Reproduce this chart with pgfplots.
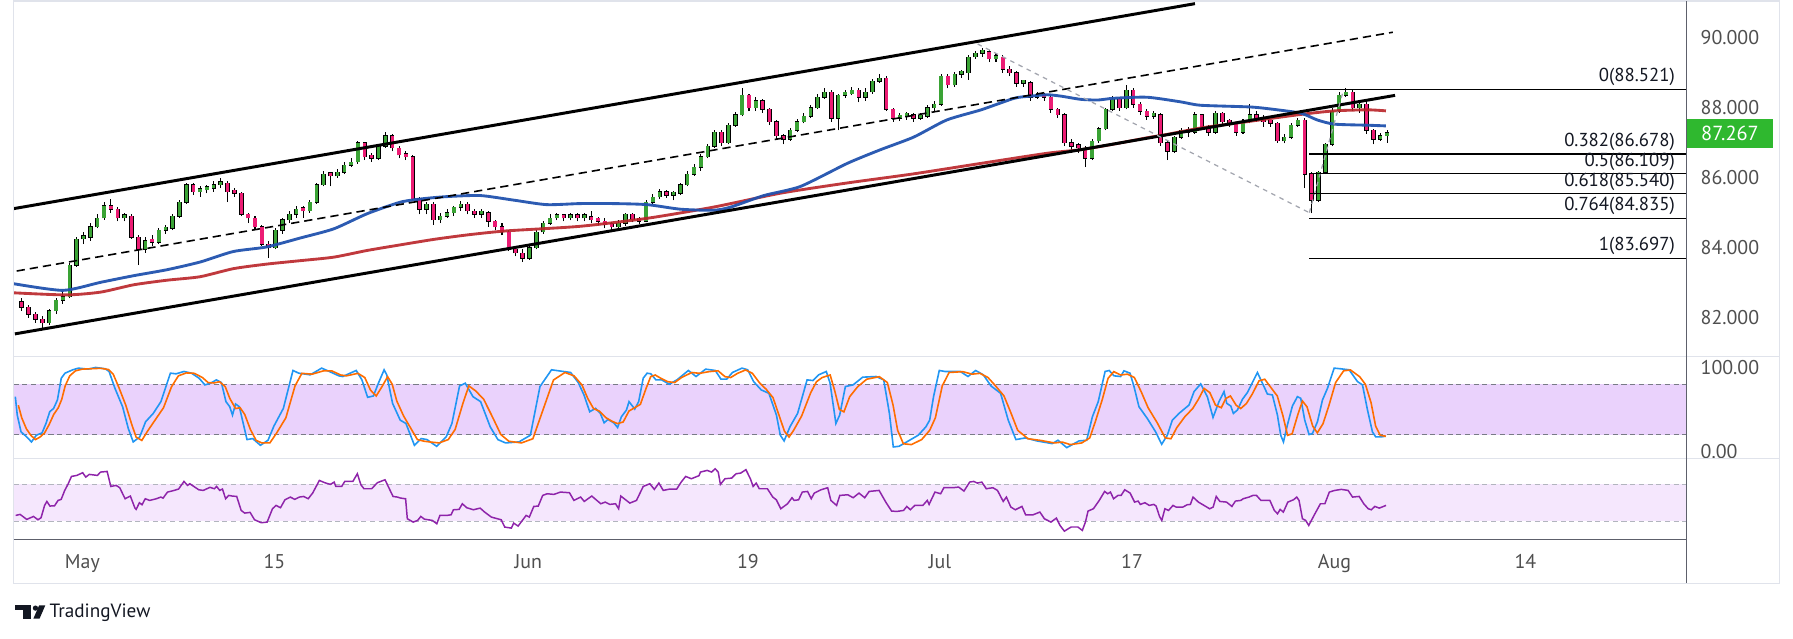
\documentclass[border=0pt]{standalone}
\usepackage{pgfplots}
\usepackage{pgfplotstable}
\pgfplotsset{compat=1.18}
\usepackage{fontspec}
\setmainfont{PT Sans}
\definecolor{upc}{HTML}{3AA335}
\definecolor{dnc}{HTML}{EC1C74}
\definecolor{mablue}{HTML}{2152AE}
\definecolor{mared}{HTML}{B92328}
\definecolor{stk}{HTML}{2196F3}
\definecolor{std}{HTML}{FF6D00}
\definecolor{stband}{HTML}{EAD2FC}
\definecolor{rsiband}{HTML}{F5E7FD}
\definecolor{rsiline}{HTML}{8E24AA}
\definecolor{labelgray}{HTML}{4F4F4F}
\definecolor{framegray}{HTML}{E0E3EB}
\definecolor{axisdark}{HTML}{5D606B}
\definecolor{tagreen}{HTML}{2FB82F}
\definecolor{fibtext}{HTML}{131722}
\definecolor{banddash}{HTML}{787B86}
\definecolor{rsidash}{HTML}{B2B5BE}
\definecolor{gdash}{HTML}{A3A6AF}

\pgfplotstableread{
x o h l c
19 82.45 82.55 82.2 82.3
25 82.3 82.35 82.0 82.1
31 82.1 82.15 81.85 81.95
37 81.95 82.05 81.68 81.85
43 81.85 82.25 81.8 82.2
49 82.2 82.55 82.1 82.5
55 82.5 82.75 82.4 82.6
61 82.6 83.55 82.55 83.5
67 83.5 84.3 83.45 84.25
73 84.25 84.45 84.1 84.3
79 84.3 84.7 84.2 84.6
85 84.6 84.95 84.55 84.85
91 84.85 85.3 84.8 85.2
97 85.2 85.4 85.0 85.1
103 85.1 85.15 84.75 84.85
109 84.85 85.0 84.75 84.9
115 84.9 84.95 84.25 84.3
121 84.3 84.35 83.5 83.95
127 83.95 84.3 83.85 84.2
133 84.2 84.35 84.05 84.15
139 84.15 84.55 84.1 84.5
145 84.5 84.65 84.4 84.55
151 84.55 84.95 84.5 84.9
157 84.9 85.35 84.85 85.3
163 85.3 85.85 85.25 85.8
169 85.8 85.85 85.5 85.6
175 85.6 85.75 85.45 85.65
181 85.65 85.8 85.55 85.7
187 85.7 85.9 85.6 85.8
193 85.8 86.0 85.7 85.85
199 85.85 85.9 85.3 85.6
205 85.6 85.7 85.45 85.55
211 85.55 85.6 84.9 84.95
217 84.95 85.0 84.7 84.85
223 84.85 84.9 84.5 84.6
229 84.6 84.65 84.05 84.1
235 84.1 84.2 83.7 84.0
241 84.0 84.55 83.95 84.5
247 84.5 84.85 84.4 84.8
253 84.8 85.05 84.7 84.95
259 84.95 85.2 84.85 85.1
265 85.1 85.2 84.85 85.05
271 85.05 85.35 85.0 85.3
277 85.3 85.85 85.25 85.8
283 85.8 86.2 85.75 86.1
289 86.1 86.15 85.75 86.05
295 86.05 86.25 86.0 86.15
301 86.15 86.45 86.1 86.35
307 86.35 86.55 86.3 86.45
313 86.45 87.05 86.4 87.0
319 87.0 87.0 86.5 86.6
325 86.6 86.7 86.45 86.55
331 86.55 86.95 86.5 86.9
337 86.9 87.3 86.85 87.2
343 87.2 87.25 86.75 86.85
349 86.85 86.9 86.55 86.65
355 86.65 86.75 86.5 86.6
361 86.6 86.65 85.35 85.4
367 85.4 85.45 84.95 85.1
373 85.1 85.3 84.95 85.25
379 85.25 85.3 84.65 84.8
385 84.8 85.0 84.7 84.9
391 84.9 85.1 84.85 85.0
397 85.0 85.2 84.9 85.15
403 85.15 85.32 85.05 85.25
409 85.25 85.3 84.95 85.05
415 85.05 85.1 84.85 84.95
421 84.95 85.1 84.85 85.0
427 85.0 85.05 84.6 84.75
433 84.75 84.8 84.5 84.6
439 84.6 84.7 84.35 84.45
445 84.45 84.5 83.9 83.95
451 83.95 84.0 83.75 83.85
457 83.85 83.95 83.6 83.7
463 83.7 84.05 83.65 84.0
469 84.0 84.5 83.95 84.45
475 84.45 84.75 84.4 84.7
481 84.7 84.95 84.65 84.85
487 84.85 84.98 84.78 84.9
493 84.9 84.97 84.75 84.85
499 84.85 85.0 84.78 84.9
505 84.9 84.98 84.75 84.85
511 84.85 85.0 84.75 84.88
517 84.88 85.05 84.7 84.8
523 84.8 84.88 84.65 84.75
529 84.75 84.85 84.55 84.65
535 84.65 84.72 84.5 84.6
541 84.6 84.78 84.5 84.7
547 84.7 85.0 84.62 84.95
553 84.95 85.0 84.72 84.8
559 84.8 84.88 84.68 84.75
565 84.75 85.35 84.72 85.3
571 85.3 85.52 85.25 85.45
577 85.45 85.68 85.4 85.6
583 85.6 85.65 85.42 85.5
589 85.5 85.62 85.35 85.55
595 85.55 85.85 85.5 85.8
601 85.8 86.18 85.75 86.1
607 86.1 86.38 86.05 86.3
613 86.3 86.68 86.2 86.6
619 86.6 86.95 86.55 86.9
625 86.9 87.35 86.85 87.3
631 87.3 87.35 86.9 87.0
637 87.0 87.55 86.95 87.5
643 87.5 87.88 87.45 87.8
649 87.8 88.56 87.75 88.35
655 88.35 88.4 87.9 88.0
661 88.0 88.3 87.9 88.2
667 88.2 88.25 87.85 87.95
673 87.95 88.0 87.5 87.6
679 87.6 87.65 87.1 87.2
685 87.2 87.25 86.95 87.1
691 87.1 87.42 87.05 87.35
697 87.35 87.68 87.3 87.6
703 87.6 87.85 87.55 87.75
709 87.75 88.08 87.7 88.0
715 88.0 88.38 87.95 88.3
721 88.3 88.55 88.25 88.45
727 88.45 88.5 87.6 87.7
733 87.7 88.4 87.35 88.35
739 88.35 88.5 88.28 88.4
745 88.4 88.6 88.35 88.5
751 88.5 88.55 88.15 88.3
757 88.3 88.55 88.2 88.45
763 88.45 88.82 88.4 88.75
769 88.75 88.95 88.7 88.85
775 88.85 88.9 87.9 87.95
781 87.95 88.0 87.6 87.7
787 87.7 87.85 87.62 87.75
793 87.75 87.88 87.65 87.8
799 87.8 87.85 87.6 87.7
805 87.7 87.85 87.65 87.75
811 87.75 88.08 87.7 88.0
817 88.0 88.18 87.9 88.1
823 88.1 88.95 88.05 88.9
829 88.9 88.95 88.55 88.65
835 88.65 89.02 88.6 88.95
841 88.95 89.08 88.85 89.0
847 89.0 89.5 88.8 89.45
853 89.45 89.62 89.4 89.55
859 89.55 89.72 89.45 89.6
865 89.6 89.65 89.3 89.4
871 89.4 89.55 89.32 89.45
877 89.45 89.5 89.0 89.1
883 89.1 89.2 88.9 89.0
889 89.0 89.05 88.6 88.7
895 88.7 88.8 88.6 88.72
901 88.72 88.75 88.2 88.3
907 88.3 88.45 88.25 88.35
913 88.35 88.42 88.2 88.3
919 88.3 88.35 87.85 87.95
925 87.95 88.0 87.7 87.8
931 87.8 87.85 86.9 87.0
937 87.0 87.1 86.8 86.9
943 86.9 86.98 86.7 86.85
949 86.85 86.9 86.3 86.55
955 86.55 87.1 86.5 87.05
961 87.05 87.45 87.0 87.4
967 87.4 88.0 87.35 87.95
973 87.95 88.33 87.9 88.25
979 88.25 88.3 87.92 88.0
985 88.0 88.65 87.95 88.5
991 88.5 88.55 88.0 88.1
997 88.1 88.15 87.8 87.9
1003 87.9 87.95 87.65 87.75
1009 87.75 87.9 87.68 87.8
1015 87.8 87.85 86.9 87.0
1021 87.0 87.05 86.5 86.75
1027 86.75 87.2 86.7 87.15
1033 87.15 87.42 87.1 87.35
1039 87.35 87.45 87.15 87.3
1045 87.3 87.88 87.25 87.8
1051 87.8 87.82 87.35 87.45
1057 87.45 87.5 87.2 87.3
1063 87.3 87.92 87.25 87.85
1069 87.85 87.88 87.5 87.6
1075 87.6 87.68 87.45 87.55
1081 87.55 87.6 87.2 87.3
1087 87.3 87.68 87.25 87.6
1093 87.6 88.1 87.55 87.8
1099 87.8 87.9 87.6 87.7
1105 87.7 87.78 87.45 87.6
1111 87.6 87.65 87.45 87.55
1117 87.55 87.6 87.0 87.05
1123 87.05 87.25 86.98 87.15
1129 87.15 87.55 87.1 87.5
1135 87.5 87.72 87.45 87.65
1141 87.65 87.7 85.7 86.1
1147 86.1 86.15 84.98 85.35
1153 85.35 86.2 85.3 86.15
1159 86.15 87.0 86.1 86.95
1165 86.95 88.0 86.9 87.9
1171 87.9 88.45 87.85 88.35
1177 88.35 88.56 88.3 88.45
1183 88.45 88.5 87.9 88.0
1189 88.0 88.2 87.85 88.1
1195 88.1 88.15 87.25 87.35
1201 87.35 87.4 86.95 87.1
1207 87.1 87.28 87.05 87.2
1213 87.2 87.35 87.0 87.27
}\candles

\pgfplotstableread{
x p
12 82.97
55 82.78
88 83.01
117 83.20
146 83.37
175 83.59
204 83.89
233 84.02
263 84.28
292 84.54
321 84.97
350 85.30
370 85.40
391 85.46
420 85.49
449 85.36
478 85.23
507 85.26
537 85.26
566 85.23
595 85.10
624 85.07
639 85.16
668 85.49
700 85.75
741 86.41
770 86.80
799 87.16
828 87.65
858 87.94
887 88.27
901 88.33
916 88.37
928 88.33
945 88.24
960 88.22
974 88.27
1003 88.30
1032 88.17
1050 88.07
1094 88.02
1117 87.94
1138 87.84
1152 87.65
1167 87.53
1196 87.50
1212 87.48
}\mablue

\pgfplotstableread{
x p
12 82.71
58 82.65
88 82.73
117 82.94
146 83.07
175 83.17
204 83.40
233 83.53
263 83.63
292 83.73
321 83.92
350 84.08
380 84.24
410 84.37
443 84.48
507 84.61
566 84.84
624 85.16
683 85.56
741 85.85
799 86.11
858 86.41
916 86.70
945 86.80
974 86.96
1003 87.14
1021 87.24
1050 87.42
1079 87.55
1138 87.81
1167 87.91
1196 87.94
1212 87.91
}\mared

\pgfplotstableread{
x v
13.4 65.2
15.1 43.2
18.4 23.2
23.4 17.2
27.5 11.2
31.8 19.2
36.8 22
40.2 33.2
43.5 47.2
46.9 51.2
50.2 61.2
53.6 87.2
56.9 93.2
63.6 97.2
68.7 99.2
77 98
83.7 100
92.1 98.4
95.4 95.2
100.5 75.2
107.2 53.2
112.2 27.2
116.5 11.2
122.2 17.2
127.3 35.2
134 45.2
140.7 59.2
149 93.2
154 92.4
160.8 95.2
167.5 93.2
174.1 87.2
179.2 79.2
184.2 81.2
189.2 85.2
193.6 82
197.6 59.2
200.9 53.2
203.3 43.2
206 56.4
209.3 53.2
216 14
221 15.2
227.7 7.2
234.4 13.2
239.5 30
247.8 51.2
256.2 96.4
261.2 93.2
271.3 91.2
281.3 99.2
288 95.2
296.4 90
299.7 89.2
311.5 96.4
316.5 85.2
321.5 64.4
326.5 66
331.5 83.2
335.9 97.2
338.2 91.2
343.3 57.2
350 37.2
355 33.2
362.4 7.2
368.4 15.2
373.4 14
381.8 6
390.2 17.2
395.2 33.2
401.9 78
406.9 81.2
413.6 65.2
420.3 59.2
428.7 29.2
435.4 14
442.1 10
453.8 11.2
463.8 19.2
472.2 77.2
482.3 97.2
499 94
505.7 82
510.7 67.2
515.7 47.2
520.8 51.2
525 45.2
528.3 34
531.7 38
536.7 34
540.1 28.4
543.4 41.2
547.8 49.2
550.1 59.2
555.1 50.4
558.5 59.2
562.5 87.2
565.9 93.2
569.2 92.4
573.6 85.2
578.6 85.2
585.3 80
592 85.2
602 96.4
608.7 89.2
617.1 98
625.5 96.4
630.5 86
635.5 86
640.5 94
648.9 99.2
653.9 97.2
659 83.2
665.7 73.2
672.4 69.2
679 43.2
682.4 19.2
685.7 12.4
690.8 29.2
697.5 45.2
705.8 85.2
710.9 84.4
715.9 91.2
722.6 95.2
725.9 81.2
731 33.2
734.3 43.2
739.3 77.2
746 79.2
754.4 88.4
766.1 89.2
772.8 85.2
777.8 45.2
781.2 5.2
786.2 6
792.9 11.2
803 19.2
809.7 29.2
813 37.2
816.4 65.2
821.4 96.4
826.4 95.2
839.8 95.2
846.5 89.2
853.2 96.4
859.9 91.2
866.6 78
875 69.2
881.7 37.2
888.4 14
896.7 16
906.8 12.4
920.2 9.2
925.2 13.2
932.9 4.4
943.6 12.4
950.3 13.2
955.3 41.2
960.4 59.2
966.4 95.2
970 96.4
974.2 90
980 89.2
982.9 96
988.2 93.2
991.7 77.2
996 53.2
1003.3 39.2
1010.6 23.2
1015.9 8.4
1020.8 19.2
1025.2 37.2
1031 45.2
1039.8 55.2
1044.2 71.2
1050 80.4
1055.8 65.2
1060.8 40.4
1066 59.2
1070.4 71.2
1072.8 57.2
1076.3 54
1078.6 45.2
1082.1 49.2
1086.5 62
1090.8 70
1095.2 82
1099.6 94
1104 81.2
1108.3 68.4
1112.7 67.2
1117.1 43.2
1120 19.2
1122.4 11.2
1125.8 31.2
1130.2 54
1134.6 65.2
1137.5 63.2
1141 37.2
1144.8 20
1147.7 21.2
1152.1 35.2
1156.5 61.2
1160.9 75.2
1166.7 99.2
1172.5 98.4
1179.8 97.2
1187.1 83.2
1191.5 79.2
1195.9 49.2
1200.2 23.2
1203.1 17.2
1207.5 17.2
1211.9 18
}\stochk

\pgfplotstableread{
x v
16 55
19 40
23 27
27 19
31 14
35 17
39 22
43 32
47 44
51 52
54 62
57 78
61 90
66 96
72 98
80 98.5
88 99
95 97.5
99 92
104 76
110 55
115 33
119 17
124 13
129 24
136 38
143 52
150 77
156 90
163 93.5
170 93
177 88
182 82
187 81.5
192 83
197 77
201 63
206 51
210 52
214 44
219 26
224 13
229 10
236 10
242 22
250 40
258 78
264 93
273 92
283 96
290 96
298 91
303 90
313 93
319 88
324 73
329 66
334 77
339 89
343 80
347 60
353 42
359 28
365 14
371 12
377 11
384 10
392 14
398 26
405 58
410 78
416 72
423 62
431 40
438 20
445 12
456 10
466 15
475 50
484 85
494 94
502 90
509 79
514 63
519 51
524 48
530 40
535 36
540 33
545 35
550 48
555 52
560 56
565 75
569 89
573 91
578 87
584 83
590 82
596 88
605 94
612 93
620 95
628 96
634 89
639 88
645 93
652 97
658 93
664 82
670 74
676 64
681 44
686 24
690 17
694 25
701 42
709 70
714 83
719 88
726 91
730 72
734 50
738 47
743 65
750 77
758 86
769 89
776 82
781 55
785 25
790 9
797 8
806 14
813 25
818 40
824 78
830 94
842 95
850 92
857 93
864 88
870 79
878 66
884 46
890 25
899 15
910 13
922 10
929 11
936 8
946 10
953 16
958 36
964 62
969 87
974 95
980 91
986 92
992 88
998 71
1004 52
1012 34
1019 16
1024 15
1029 28
1036 41
1043 51
1048 62
1053 75
1058 70
1063 55
1068 52
1072 63
1076 66
1081 55
1085 51
1090 57
1095 68
1101 84
1106 86
1112 75
1117 66
1122 42
1126 19
1130 21
1135 44
1139 60
1143 53
1148 30
1152 22
1157 33
1162 54
1168 82
1175 96
1181 97
1189 89
1194 80
1199 58
1203 30
1207 19
1212 18
}\stochd

\pgfplotstableread{
x v
13.7 36.5
17.6 37.6
23.4 32.2
29.3 35.4
33.2 31.8
35.9 34
39 47.3
41 51.6
43.7 46.6
47.7 46.9
50.8 52.7
53.5 53.8
56.6 63.5
59.4 70
62.5 78.6
67.2 79.7
72.3 82.6
75 77.9
78.1 80.8
85.2 79.7
87.9 83.3
93.7 84
96.9 67.8
101.6 68.9
104.7 66.4
109.4 54.5
114 57.4
118 44.4
119.1 43
121.9 50.2
124.2 48
127 54.5
130.9 52.7
136.7 54.5
140.6 56.3
142.6 55.2
146.5 61.7
152.3 63.5
156.2 65
160.9 73.2
164 68.9
166 70.7
173.8 64.2
177.7 63.5
183.6 66.8
187.5 65.3
189.4 67.8
192.2 63.5
194.5 65
197.3 54.5
200 58.1
203.1 57.4
207 57
210.9 41.9
214 39
218.7 39.8
222.6 31.8
228.5 28.6
233.6 29.3
238.3 43.7
241.4 47.3
245.3 44.8
249.2 53.4
253.9 56.3
257.8 53.8
261.7 56.3
265.6 57
269.5 54.5
273.4 60.6
279.3 74.3
284 71.8
289 70
292.2 72.5
293.7 67.8
298.8 67.8
301.5 73.2
308.6 73.2
312.5 81.5
315.6 69.6
318.3 65.3
325 65.3
330 71.8
336.7 75
343.7 57
347.6 56.3
350.4 55.2
354.7 54.5
356.2 32.9
361.3 29.3
365.2 31.1
368 35.4
371.1 32.5
378.1 31.1
382 27.5
384.7 36.5
390.6 36.5
394.5 37.2
396.5 42.6
401.5 43
404.3 49.1
408.2 44.8
414 42.6
419.9 44.4
423.8 40.1
429.7 34.7
438.3 31.8
441.4 23.9
447.2 22.8
449.2 28.2
453.1 25
460.1 36.5
462.9 34.7
466.8 46.2
470.7 46.6
474.6 58.1
478.5 59.9
484.3 59.2
490.2 61.7
498 61
501.9 52.7
507.8 56.3
510.9 51.6
517.5 57.4
525.4 49.1
529.3 50.9
533.2 48.4
538.3 49.1
541 43.7
542.9 57.4
550.8 49.8
556.6 52.7
562.5 67.8
568.3 70.7
572.2 64.6
576.2 71.4
580 63.5
585.9 65
591.8 65
595.7 72.5
599.6 78.6
604.6 76.1
611.3 79.4
612.5 83.3
618.4 85.1
622.3 83.3
625.4 86.9
628.1 83.3
630 70
634 76.1
639.8 76.8
643.7 81.5
647.7 82.2
652.3 85.9
656.2 76.1
658.6 67.8
661.3 71.4
664 65.3
671.1 65.3
675.8 56.3
678.9 53.4
682.8 43.7
688.7 49.1
692.6 55.6
694.5 52.7
698.4 53.4
701.6 61.7
706.2 62.4
709.4 54.5
712.1 60.6
718 64.2
723.8 66.4
726.6 52.7
731.6 47.3
734.4 58.1
741.4 58.8
746.1 55.6
751.2 60.6
756.2 55.6
760.1 62.4
768.8 63.5
774.6 50.9
779.7 41.2
784.4 40.8
790.2 41.9
793 46.2
796.1 42.6
800 47.3
807 47.3
810.9 52.7
812.5 48.4
817.6 61.7
822.6 59.9
825.4 66.4
833.2 66.4
838.3 67.1
843 62.8
848 72.5
851.5 73.2
854.7 71.4
858.6 72.5
862.5 65.3
868.3 66.4
872.3 63.5
877.3 51.6
880.1 56.3
884 45.5
887.9 42.6
893.7 46.2
896.9 37.2
903.5 37.2
909.4 40.1
913.3 32.9
919.1 29.3
923.8 33.6
927 25.7
930.8 19.5
936.7 24
942.6 24
946.5 20.3
949.2 29.3
951.5 41.2
956.2 43.7
961.3 52.7
966 62.4
968.7 59.9
971.1 61.7
973.8 54.5
977.7 58.1
980.4 58.1
983.6 64.2
988.3 60.6
992.2 50.9
995.3 52
997.2 48.4
1001.2 50.2
1005.1 47.3
1009 48.4
1011 46.6
1014 35.4
1016 31.1
1018.7 43.7
1021.9 41.9
1025.8 47.3
1028.5 45.5
1034.4 45.5
1038.2 48
1041 48.4
1043.3 56.3
1048 50.9
1053.9 46.6
1057.8 43.7
1060.9 45.5
1063.6 57
1066.8 51.6
1072.6 50.9
1077.3 46.2
1080.4 52
1085.2 52.7
1087.1 54.5
1092.2 56.3
1095.7 58.1
1098.8 58.1
1102.7 52.7
1110.5 52.7
1114.4 41.9
1117.2 38.3
1119.5 43
1122.3 40.1
1126.2 50.9
1131.2 53.4
1134 56.3
1136 52.7
1139 32.9
1141.8 31.1
1144.5 25.7
1149.6 37.6
1154.7 49.1
1158.6 49.1
1162.5 61.7
1167.2 63.5
1173 64.6
1178.9 63.5
1182.8 56.3
1188.6 57
1192.6 49.1
1196.5 43.7
1199.2 42.6
1202.3 46.2
1206.2 44.4
1212.1 47.3
}\rsi

\pgfplotsset{
  tvbase/.style={
    scale only axis, width=731.5pt, xmin=12, xmax=1475,
    axis line style={draw=none}, tick style={draw=none},
    xtick=\empty, clip mode=individual,
    yticklabel pos=right,
    yticklabel style={font=\fontsize{8.7}{10}\selectfont, text=labelgray, anchor=west, xshift=2.6pt},
  },
  candlebar/.style 2 args={draw=none, mark=none, forget plot,
    error bars/.cd, y dir=plus, y explicit, error mark=none,
    error bar style={line width=#1, draw=#2, solid}},
}

\begin{document}
\begin{tikzpicture}
\useasboundingbox (0,0) rectangle (784pt,-279pt);

% ---------------- main price pane
\begin{axis}[tvbase, at={(6pt,-1pt)}, anchor=north west, height=155pt,
  ymin=80.882, ymax=91.013,
  ytick={82,84,86,88,90}, yticklabels={82.000,84.000,86.000,88.000,90.000}]
  % wicks
  \addplot[candlebar={0.45pt}{black}] table[x=x, y=l, y error plus expr=\thisrow{h}-\thisrow{l}] \candles;
  % body outlines
  \addplot[candlebar={1.95pt}{black}] table[x=x, y expr={min(\thisrow{o},\thisrow{c})-0.012},
     y error plus expr={max(abs(\thisrow{c}-\thisrow{o}),0.09)+0.024}] \candles;
  % up bodies
  \addplot[candlebar={1.45pt}{upc}] table[x expr={\thisrow{c}>=\thisrow{o} ? \thisrow{x} : nan},
     y=o, y error plus expr={max(\thisrow{c}-\thisrow{o},0.09)}] \candles;
  % down bodies
  \addplot[candlebar={1.45pt}{dnc}] table[x expr={\thisrow{c}<\thisrow{o} ? \thisrow{x} : nan},
     y=c, y error plus expr={max(\thisrow{o}-\thisrow{c},0.09)}] \candles;
  % moving averages
  \addplot[mared, line width=1.25pt, smooth, tension=0.4, opacity=0.9] table[x=x, y=p] \mared;
  \addplot[mablue, line width=1.25pt, smooth, tension=0.4, opacity=0.95] table[x=x, y=p] \mablue;
  % channel
  \addplot[black, line width=1.3pt] coordinates {(12,85.116) (1045,90.974)};
  \addplot[black, line width=1.3pt] coordinates {(13,81.536) (1220,88.353)};
  \addplot[black, line width=0.7pt, dash pattern=on 3.6pt off 2.2pt] coordinates {(14.6,83.333) (1218,90.157)};
  % gray diagonals
  \addplot[gdash, line width=0.55pt, dash pattern=on 2pt off 2pt] coordinates {(855,89.82) (1145,85.0)};
  \addplot[gdash, line width=0.55pt, dash pattern=on 2pt off 2pt] coordinates {(1145,85.0) (1175,88.52)};
  % fibonacci levels
  \addplot[black, line width=0.5pt] coordinates {(1145,88.521) (1475,88.521)};
  \addplot[black, line width=0.5pt] coordinates {(1145,86.678) (1475,86.678)};
  \addplot[black, line width=0.5pt] coordinates {(1145,86.109) (1475,86.109)};
  \addplot[black, line width=0.5pt] coordinates {(1145,85.540) (1475,85.540)};
  \addplot[black, line width=0.5pt] coordinates {(1145,84.835) (1475,84.835)};
  \addplot[black, line width=0.5pt] coordinates {(1145,83.697) (1475,83.697)};
  \begin{scope}[every node/.style={anchor=base east, inner sep=0pt, text=fibtext, font=\fontsize{8.2}{9}\selectfont, yshift=3.4pt}]
  \node at (axis cs:1465,88.521) {0(88.521)};
  \node at (axis cs:1465,86.678) {0.382(86.678)};
  \node at (axis cs:1465,86.109) {0.5(86.109)};
  \node at (axis cs:1465,85.540) {0.618(85.540)};
  \node at (axis cs:1465,84.835) {0.764(84.835)};
  \node at (axis cs:1465,83.697) {1(83.697)};
  \end{scope}
  \node[fill=tagreen, text=white, anchor=west, minimum height=13pt, minimum width=37.5pt,
    inner sep=0pt, font=\fontsize{8.9}{10}\selectfont] at (axis cs:1475,87.267) {87.267};
\end{axis}

% ---------------- stochastic pane
\begin{axis}[tvbase, at={(6pt,-156pt)}, anchor=north west, height=44.5pt,
  ymin=-8.63, ymax=112.73,
  ytick={0,100}, yticklabels={0.00,100.00}]
  \addplot[draw=none, fill=stband] coordinates {(12,20) (1475,20) (1475,80) (12,80)} -- cycle;
  \addplot[banddash, line width=0.5pt, dash pattern=on 2.2pt off 1.6pt] coordinates {(12,80) (1475,80)};
  \addplot[banddash, line width=0.5pt, dash pattern=on 2.2pt off 1.6pt] coordinates {(12,20) (1475,20)};
  \addplot[stk, line width=0.7pt] table[x=x, y=v] \stochk;
  \addplot[std, line width=0.7pt] table[x=x, y=v] \stochd;
\end{axis}

% ---------------- RSI pane
\begin{axis}[tvbase, at={(6pt,-200.5pt)}, anchor=north west, height=35.5pt,
  ymin=10.25, ymax=97.9, ytick=\empty,
  xtick={72,240,462,654,822,990,1167,1334},
  xticklabels={May,15,Jun,19,Jul,17,Aug,14},
  xticklabel style={font=\fontsize{8.7}{10}\selectfont, text=labelgray, anchor=base, yshift=-12.5pt}]
  \addplot[draw=none, fill=rsiband] coordinates {(12,30) (1475,30) (1475,70) (12,70)} -- cycle;
  \addplot[rsidash, line width=0.5pt, dash pattern=on 2.2pt off 1.6pt] coordinates {(12,70) (1475,70)};
  \addplot[rsidash, line width=0.5pt, dash pattern=on 2.2pt off 1.6pt] coordinates {(12,30) (1475,30)};
  \addplot[rsiline, line width=0.65pt] table[x=x, y=v] \rsi;
\end{axis}

% ---------------- frame and separators
\draw[framegray, line width=0.6pt] (6pt,-0.5pt) rectangle (778pt,-255pt);
\draw[framegray, line width=0.6pt] (6pt,-156pt) -- (778pt,-156pt);
\draw[framegray, line width=0.6pt] (6pt,-200.5pt) -- (778pt,-200.5pt);
\draw[axisdark, line width=0.6pt] (6pt,-236pt) -- (737.5pt,-236pt);
\draw[axisdark, line width=0.6pt] (737.5pt,-0.5pt) -- (737.5pt,-255pt);

% ---------------- logo
\begin{scope}[x=0.5pt, y=-0.5pt, fill=fibtext]
  \fill (13,529.4) rectangle (26.8,533.8);
  \fill (20.4,529.4) rectangle (26.8,541);
  \fill (31,531.8) circle (2.3);
  \fill (29.2,541) -- (34.6,541) -- (39.6,529.4) -- (34.2,529.4) -- cycle;
  \node[anchor=west, inner sep=0pt, text=fibtext, font=\fontsize{8.4}{10}\selectfont] at (43,535.5) {TradingView};
\end{scope}
\end{tikzpicture}
\end{document}
